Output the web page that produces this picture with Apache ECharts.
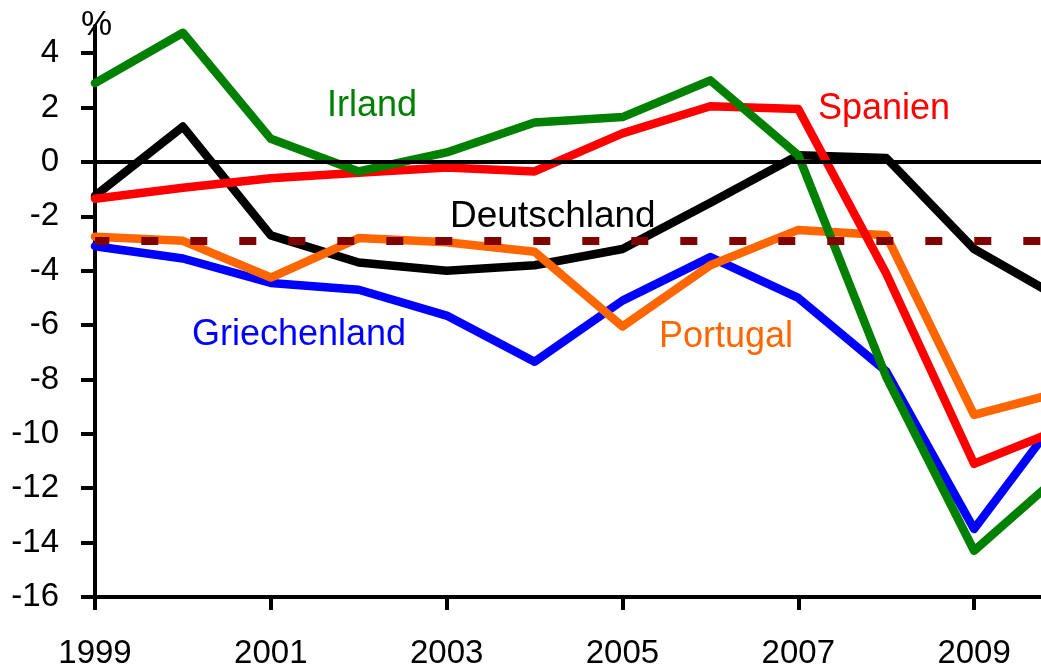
<!DOCTYPE html>
<html>
<head>
<meta charset="utf-8">
<script src="https://cdn.jsdelivr.net/npm/echarts@6/dist/echarts.min.js"></script>
<style>
html,body{margin:0;padding:0;background:#ffffff;}
#chart{width:1041px;height:671px;}
</style>
</head>
<body>
<div id="chart"></div>
<script>
// ---- data ----
const years = [1999, 2000, 2001, 2002, 2003, 2004, 2005, 2006, 2007, 2008, 2009, 2010];
const deutschland  = [-1.25, 1.3, -2.7, -3.7, -4.0, -3.8, -3.2, -1.5, 0.25, 0.15, -3.2, -5.05];
const griechenland = [-3.1, -3.55, -4.45, -4.7, -5.65, -7.35, -5.1, -3.5, -5.0, -7.7, -13.5, -9.2];
const portugal     = [-2.75, -2.9, -4.25, -2.8, -2.95, -3.3, -6.05, -3.8, -2.5, -2.7, -9.3, -8.45];
const spanien      = [-1.35, -0.95, -0.6, -0.4, -0.2, -0.35, 1.05, 2.05, 1.95, -4.1, -11.1, -9.8];
const irland       = [2.9, 4.75, 0.85, -0.35, 0.35, 1.45, 1.65, 3.0, 0.25, -7.9, -14.3, -11.45];
const limitValue = -2.9;          // dashed reference line
const zeroValue = 0;
const yTickValues = [-16, -14, -12, -10, -8, -6, -4, -2, 0, 2, 4];
const xTickValues = [1999, 2001, 2003, 2005, 2007, 2009];
const seriesNames = ['Deutschland', 'Griechenland', 'Portugal', 'Spanien', 'Irland'];
const yUnit = '%';

const pairs = arr => years.map((y, i) => [y, arr[i]]);
const FONT = '"Liberation Sans", Arial, sans-serif';

const chart = echarts.init(document.getElementById('chart'), null, {renderer: 'canvas'});

function lineSeries(name, data, color) {
  return {
    name: name,
    type: 'line',
    data: pairs(data),
    symbol: 'none',
    animation: false,
    lineStyle: {color: color, width: 8.5, join: 'round', cap: 'round'},
    z: 3
  };
}

const option = {
  animation: false,
  backgroundColor: '#ffffff',
  grid: {left: 95, top: 26, width: 967, height: 571, containLabel: false, outerBoundsMode: 'none'},
  xAxis: {
    type: 'value',
    min: 1999,
    max: 2010,
    position: 'bottom',
    splitLine: {show: false},
    axisLine: {show: true, onZero: false, lineStyle: {color: '#000', width: 4}},
    axisTick: {show: true, customValues: xTickValues, length: 13, inside: false, lineStyle: {color: '#000', width: 4}},
    axisLabel: {customValues: xTickValues, margin: 40, color: '#000', fontSize: 33, fontFamily: FONT,
      formatter: v => String(v)}
  },
  yAxis: {
    type: 'value',
    min: -16,
    max: 5,
    splitLine: {show: false},
    axisLine: {show: true, onZero: false, lineStyle: {color: '#000', width: 4}},
    axisTick: {show: true, customValues: yTickValues, length: 14, inside: false, lineStyle: {color: '#000', width: 4}},
    axisLabel: {customValues: yTickValues, margin: 36, color: '#000', fontSize: 33, fontFamily: FONT,
      formatter: v => String(v)}
  },
  series: [
    Object.assign(lineSeries(seriesNames[0], deutschland, '#000000'), {
      markLine: {
        silent: true, animation: false, symbol: ['none', 'none'],
        label: {show: false},
        lineStyle: {color: '#000', width: 4, type: 'solid'},
        data: [{yAxis: zeroValue}]
      }
    }),
    lineSeries(seriesNames[1], griechenland, '#0000FF'),
    lineSeries(seriesNames[2], portugal, '#FF6600'),
    lineSeries(seriesNames[3], spanien, '#FF0000'),
    lineSeries(seriesNames[4], irland, '#008000'),
    {
      name: 'Grenze',
      type: 'line',
      data: [],
      symbol: 'none',
      animation: false,
      z: 5,
      markLine: {
        silent: true, animation: false, symbol: ['none', 'none'],
        label: {show: false},
        lineStyle: {color: '#800000', width: 8, type: [17, 32], dashOffset: 2.7, cap: 'butt'},
        data: [{yAxis: limitValue}]
      }
    }
  ],
  graphic: [
    {type: 'text', x: 81, y: 25, z: 10, style: {text: yUnit, fill: '#000', font: '35px ' + FONT, align: 'left', verticalAlign: 'middle'}},
    {type: 'text', x: 327, y: 106, z: 10, style: {text: 'Irland', fill: '#008000', font: '36px ' + FONT, align: 'left', verticalAlign: 'middle'}},
    {type: 'text', x: 818, y: 109, z: 10, style: {text: 'Spanien', fill: '#FF0000', font: '36px ' + FONT, align: 'left', verticalAlign: 'middle'}},
    {type: 'text', x: 450, y: 217, z: 10, style: {text: 'Deutschland', fill: '#000000', font: '37px ' + FONT, align: 'left', verticalAlign: 'middle'}},
    {type: 'text', x: 192, y: 335, z: 10, style: {text: 'Griechenland', fill: '#0000FF', font: '36px ' + FONT, align: 'left', verticalAlign: 'middle'}},
    {type: 'text', x: 659, y: 337, z: 10, style: {text: 'Portugal', fill: '#FF6600', font: '36px ' + FONT, align: 'left', verticalAlign: 'middle'}}
  ]
};
chart.setOption(option);
</script>
</body>
</html>
